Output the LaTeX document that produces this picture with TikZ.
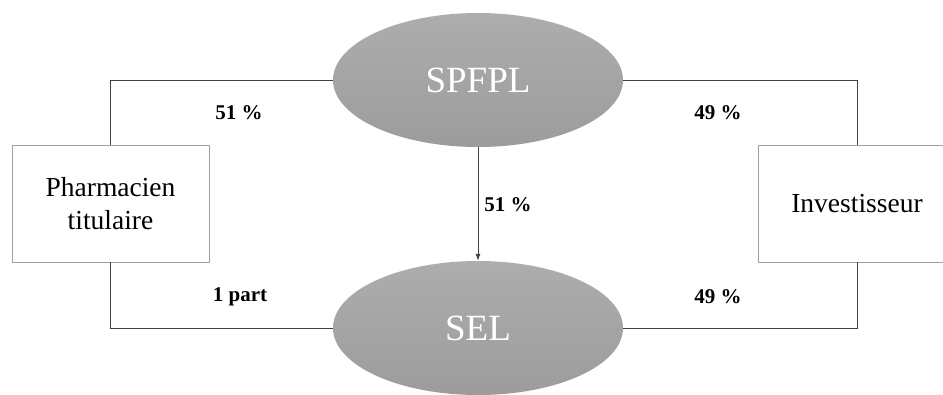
\documentclass[tikz,border=0pt]{standalone}
\usepackage{fontspec}
\setmainfont{Liberation Serif}
\usetikzlibrary{shapes.geometric,arrows.meta}
\definecolor{ovaltop}{HTML}{ADADAD}
\definecolor{ovalbot}{HTML}{9C9C9C}
\definecolor{boxline}{HTML}{A0A0A0}
\definecolor{wire}{HTML}{404040}
\tikzset{
  oval/.style={ellipse, inner sep=0pt, minimum width=290pt, minimum height=134pt,
    top color=ovaltop, bottom color=ovalbot, draw=none,
    text=white, font=\fontsize{37}{42}\selectfont},
  party/.style={rectangle, draw=boxline, line width=0.8pt, fill=white,
    minimum width=197pt, minimum height=117pt, inner sep=0pt, align=center,
    font=\fontsize{27.5}{33}\selectfont},
  share/.style={font=\fontsize{21}{24}\selectfont\bfseries},
  wireline/.style={draw=wire, line width=0.9pt}
}
\begin{document}
\begin{tikzpicture}[x=1pt,y=-1pt]
  \useasboundingbox (0,0) rectangle (943,394);
  % the two companies
  \node[oval] (spfpl) at (478,80) {SPFPL};
  \node[oval] (sel) at (478,328) {SEL};
  % the two partners
  \node[party] (pharm) at (110.5,203.5) {Pharmacien\\titulaire};
  \node[party] (inv) at (857,203.5) {Investisseur};
  % holdings
  \draw[wireline] (pharm.north) |- (spfpl.west);
  \draw[wireline] (pharm.south) |- (sel.west);
  \draw[wireline] (inv.north) |- (spfpl.east);
  \draw[wireline] (inv.south) |- (sel.east);
  \draw[wireline, -{Latex[length=7pt,width=5pt]}] (spfpl.south) -- (sel.north);
  % percentages
  \node[share] (l1) at (239,113) {51 \%};
  \node[share] (r1) at (718,113) {49 \%};
  \node[share] (mid) at (508,205) {51 \%};
  \node[share] (l2) at (240,297) {1 part};
  \node[share] (r2) at (718,297) {49 \%};
\end{tikzpicture}
\end{document}
